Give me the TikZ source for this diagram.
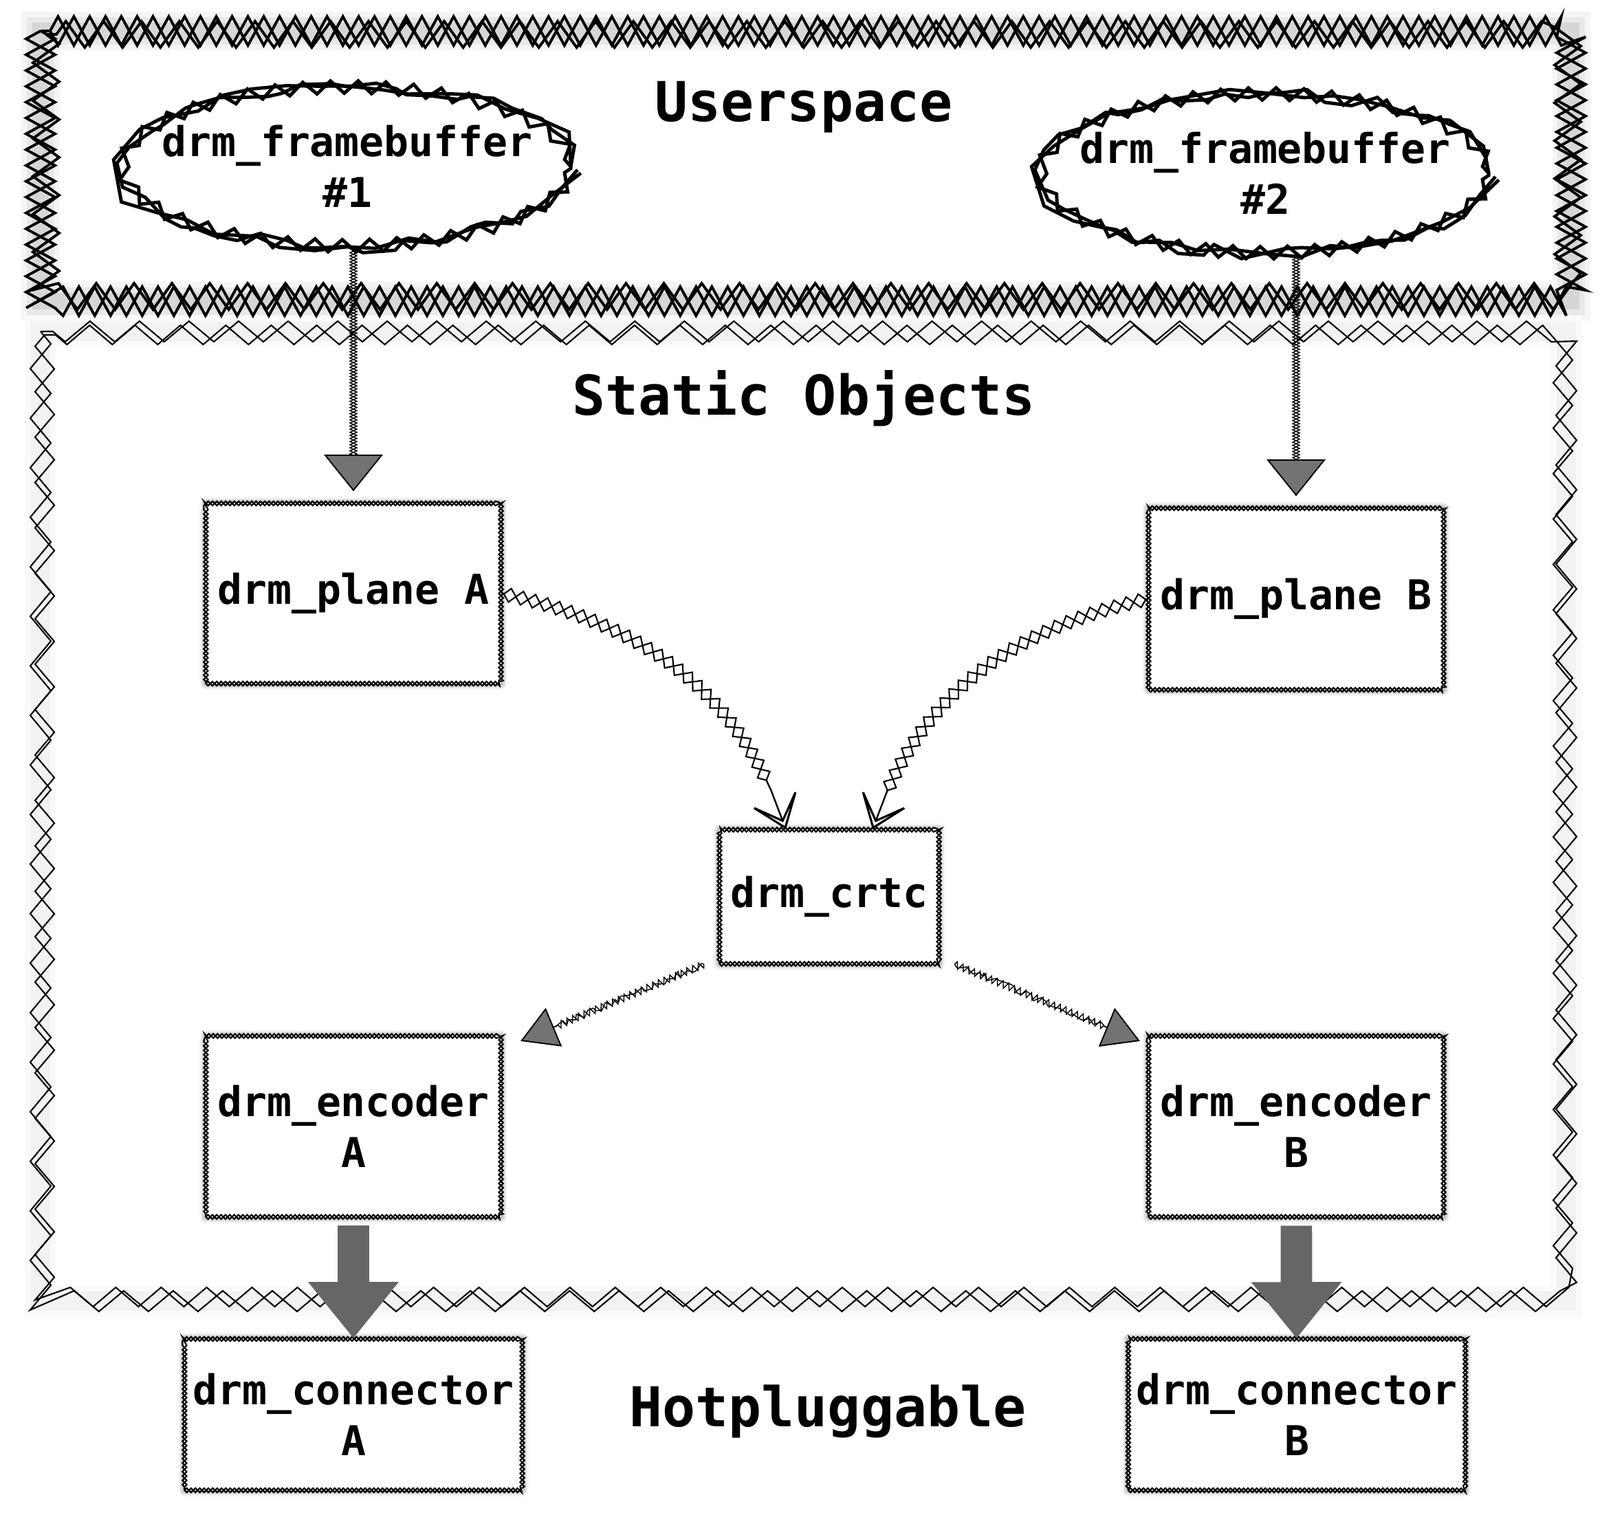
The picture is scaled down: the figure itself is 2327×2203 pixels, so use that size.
\documentclass[tikz,border=0pt]{standalone}
\usepackage{fontspec}
\setmainfont{DejaVu Sans Mono}
\usetikzlibrary{arrows.meta,decorations.pathmorphing,shapes.geometric,shadows.blur}

\tikzset{
  drmtext/.style={font=\fontsize{17}{21}\selectfont\bfseries, align=center},
  clustertext/.style={font=\fontsize{22.7}{27}\selectfont\bfseries},
  drmbox/.style={drmtext, rectangle, draw=none, fill=white, inner sep=0pt,
    postaction={draw, line width=0.6pt, decorate, decoration={zigzag, amplitude=0.9pt, segment length=3.6pt}},
    postaction={draw, line width=0.6pt, decorate, decoration={zigzag, amplitude=-0.9pt, segment length=3.6pt}},
    blur shadow={shadow xshift=0pt, shadow yshift=0pt, shadow blur radius=2.5pt, shadow opacity=70}},
  fbnode/.style={drmtext, ellipse, draw=none, fill=white, inner xsep=-0.4cm, inner ysep=0.22cm,
    postaction={draw, line width=1.4pt, decorate, decoration={random steps, segment length=0.3cm, amplitude=0.1cm}},
    postaction={draw, line width=1.4pt, decorate, decoration={random steps, segment length=0.45cm, amplitude=0.08cm}},
    postaction={draw, line width=1.4pt, decorate, decoration={zigzag, segment length=0.4cm, amplitude=0.09cm}}},
  usborder/.style={draw, line width=1.1pt, decorate, decoration={zigzag, amplitude=0.21cm, segment length=0.46cm}},
  stborder/.style={draw, line width=0.6pt, decorate, decoration={zigzag, amplitude=0.15cm, segment length=0.72cm}},
  hatchtip/.tip={Triangle[length=0.53cm, width=0.85cm, fill=black!55, line width=0.5pt]},
  droplink/.style={draw=none, shorten >=0.17cm, -{hatchtip},
    postaction={draw, line width=0.4pt, decorate, decoration={zigzag, amplitude=0.05cm, segment length=0.09cm, pre length=2pt, post length=0.6cm}},
    postaction={draw, line width=0.4pt, decorate, decoration={zigzag, amplitude=-0.05cm, segment length=0.09cm, pre length=2pt, post length=0.6cm}}},
  curvelink/.style={draw=none, -{Stealth[length=0.6cm, width=0.9cm, inset=0.45cm, open, line width=0.8pt]},
    postaction={draw, line width=0.6pt, decorate, decoration={zigzag, amplitude=0.1cm, segment length=0.36cm, pre length=1pt, post length=0.6cm}},
    postaction={draw, line width=0.6pt, decorate, decoration={zigzag, amplitude=-0.1cm, segment length=0.36cm, pre length=1pt, post length=0.6cm}}},
  slantlink/.style={draw=none, -{Triangle[length=0.52cm, width=0.6cm, fill=black!55, line width=0.5pt]},
    postaction={draw, line width=0.4pt, decorate, decoration={random steps, amplitude=0.05cm, segment length=0.07cm, post length=0.55cm}},
    postaction={draw, line width=0.4pt, decorate, decoration={zigzag, amplitude=0.05cm, segment length=0.09cm, post length=0.55cm}}},
  fatlink/.style={draw=black!60, line width=13pt, shorten <=0.12cm,
    -{Triangle[length=0.82cm, width=1.26cm, fill=black!60]}}
}

\begin{document}
\begin{tikzpicture}[x=0.01cm, y=-0.01cm]
  \useasboundingbox (0,0) rectangle (2327,2203);
  % clusters
  \coordinate (us-nw) at (59,45);
  \coordinate (us-se) at (2285,438);
  \coordinate (st-nw) at (59,482);
  \coordinate (st-se) at (2278,1892);
  \foreach \w/\c in {0.55cm/4, 0.4cm/9, 0.24cm/16}
    \draw[line width=\w, black!\c] (us-nw) rectangle (us-se);
  \foreach \w/\c in {0.45cm/2, 0.28cm/5}
    \draw[line width=\w, black!\c] (st-nw) rectangle (st-se);
  \draw[usborder] (us-nw) rectangle (us-se);
  \draw[usborder, decoration={amplitude=-0.21cm}] (us-nw) rectangle (us-se);
  \draw[usborder, decoration={segment length=0.55cm, amplitude=0.19cm}] ([shift={(8,5)}]us-nw) rectangle ([shift={(-5,-7)}]us-se);
  \draw[stborder] (st-nw) rectangle (st-se);
  \draw[stborder, decoration={segment length=0.66cm, amplitude=-0.14cm}] ([shift={(6,5)}]st-nw) rectangle ([shift={(-5,-6)}]st-se);
  \node[clustertext] (userspace) at (1169,156) {Userspace};
  \node[clustertext] (static) at (1169,579) {Static Objects};
  \node[clustertext] (hotplug) at (1204,2052) {Hotpluggable};

  % objects
  \node[fbnode] (fb1) at (505,242) {drm\_framebuffer\\\#1};
  \node[fbnode] (fb2) at (1840,252) {drm\_framebuffer\\\#2};
  \node[drmbox, minimum width=4.29cm, minimum height=2.62cm] (planeA) at (514,863) {drm\_plane A};
  \node[drmbox, minimum width=4.29cm, minimum height=2.64cm] (planeB) at (1885,871) {drm\_plane B};
  \node[drmbox, minimum width=3.19cm, minimum height=1.95cm] (crtc) at (1206,1304) {drm\_crtc};
  \node[drmbox, minimum width=4.29cm, minimum height=2.63cm] (encA) at (514,1638) {drm\_encoder\\A};
  \node[drmbox, minimum width=4.29cm, minimum height=2.63cm] (encB) at (1885,1638) {drm\_encoder\\B};
  \node[drmbox, minimum width=4.91cm, minimum height=2.2cm] (connA) at (514,2057) {drm\_connector\\A};
  \node[drmbox, minimum width=4.9cm, minimum height=2.2cm] (connB) at (1886,2057) {drm\_connector\\B};

  % links
  \draw[droplink] (fb1.south -| planeA.north) -- (planeA.north);
  \draw[droplink] (fb2.south -| planeB.north) -- (planeB.north);
  \draw[curvelink] (planeA.east) to[out=-12, in=108] ([xshift=-0.63cm]crtc.north);
  \draw[curvelink] (planeB.west) to[out=192, in=72] ([xshift=0.63cm]crtc.north);
  \draw[slantlink] ([xshift=-0.22cm]crtc.south west) -- ([xshift=0.28cm, yshift=-0.08cm]encA.north east);
  \draw[slantlink] ([xshift=0.22cm]crtc.south east) -- ([xshift=-0.12cm, yshift=-0.08cm]encB.north west);
  \draw[fatlink] (encA) -- (connA);
  \draw[fatlink] (encB) -- (connB);
\end{tikzpicture}
\end{document}
